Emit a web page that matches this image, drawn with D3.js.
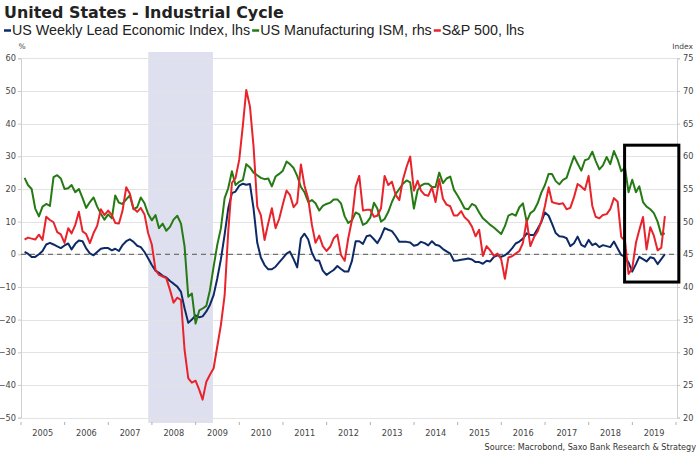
<!DOCTYPE html>
<html>
<head>
<meta charset="utf-8">
<script src="https://cdn.jsdelivr.net/npm/d3@7"></script>
<style>
  html, body { margin: 0; padding: 0; background: #fff; }
  svg { display: block; }
</style>
</head>
<body>
<svg id="chart" width="700" height="456"></svg>
<script>
// ---- Data (monthly, Jan 2005 .. Sep 2019) ----
const startYear = 2005;
const leiValues = [
  0.7,0.2,-0.8,-0.8,0.0,1.0,3.0,3.5,3.0,2.4,1.9,2.7,
  3.3,1.5,3.2,4.2,4.0,1.8,0.3,-0.3,0.7,1.7,1.9,1.9,
  1.2,1.7,1.0,2.8,4.0,4.6,3.8,2.6,2.2,0.7,-1.2,-3.3,
  -5.0,-5.7,-6.6,-7.1,-8.2,-9.0,-9.9,-11.5,-16.5,-21.0,-20.0,-18.7,
  -19.3,-19.0,-17.5,-15.5,-12.5,-7.5,-1.5,6.0,14.0,18.7,19.2,21.0,
  21.6,21.3,21.5,14.0,3.5,-1.0,-3.3,-4.6,-4.6,-3.8,-2.5,-1.2,
  0.2,0.8,-1.5,-4.0,4.9,6.3,4.5,0.5,-1.8,-2.0,-5.0,-6.3,
  -5.5,-4.8,-3.6,-4.5,-5.3,-5.3,-2.0,4.0,4.0,3.2,5.5,5.8,
  4.6,3.4,5.4,8.0,7.5,7.1,5.6,3.8,3.8,3.8,3.6,2.6,
  2.9,3.8,3.4,2.7,4.0,2.9,2.6,1.6,0.9,0.2,-2.0,-1.9,
  -1.7,-1.5,-1.3,-1.6,-2.4,-2.4,-2.9,-2.0,-2.2,-0.8,-0.3,-0.8,
  -0.3,0.5,1.8,3.3,3.9,4.8,6.4,5.9,5.9,7.8,9.8,12.8,
  11.8,9.4,6.5,5.5,5.4,4.9,2.5,3.4,5.4,2.9,2.3,4.4,
  2.8,3.3,2.2,2.8,2.5,2.2,3.9,1.8,-0.2,-0.8,-2.5,-5.3,
  -3.0,-0.8,-1.5,-2.2,-0.9,-1.2,-3.0,-1.5,0.0
];
const ismValues = [
  56.7,55.6,55.0,52.0,50.8,52.3,52.7,52.4,56.8,57.1,56.6,55.0,
  55.1,55.6,54.5,55.0,53.6,52.1,53.0,53.7,52.3,51.2,50.3,51.1,
  50.5,54.0,52.9,52.7,53.4,54.0,51.9,52.2,53.7,52.8,51.2,50.2,
  51.0,49.0,49.7,48.6,49.2,50.3,50.9,49.7,46.2,38.5,39.0,34.4,
  36.4,36.7,37.1,39.5,43.1,46.4,49.0,53.6,55.1,57.7,55.6,56.1,
  56.4,58.8,58.3,57.5,57.1,56.7,56.5,56.6,55.4,56.9,57.3,57.8,
  59.2,58.8,58.2,57.0,55.3,54.5,53.0,53.3,52.8,51.7,52.4,52.7,
  52.9,53.4,53.4,52.8,50.8,49.8,50.2,51.4,51.1,49.5,49.8,50.6,
  52.9,52.0,50.0,50.4,51.5,53.0,54.2,55.0,55.8,56.3,56.0,52.0,
  54.8,55.5,55.8,55.8,55.3,55.3,57.5,55.9,56.6,56.9,54.9,54.0,
  53.0,52.0,51.9,52.7,52.4,51.4,50.5,50.0,49.5,49.1,48.6,48.1,
  49.3,50.9,51.2,50.9,52.2,52.8,50.0,51.3,51.7,52.8,54.4,55.6,
  57.3,57.3,56.2,55.7,56.4,56.7,58.4,60.0,58.9,57.8,59.4,59.6,
  60.7,59.3,58.0,58.6,59.9,58.8,60.8,59.5,57.7,58.3,54.5,56.4,
  54.5,55.4,53.0,52.3,51.9,51.3,50.0,48.0,48.2
];
const spxValues = [
  4.5,5.1,4.8,4.5,6.0,4.4,11.5,10.5,9.8,6.8,6.1,3.5,
  8.0,6.4,9.0,13.0,7.0,6.2,3.4,6.5,8.7,13.8,12.0,13.4,
  12.0,9.6,9.4,13.3,20.5,18.6,14.0,13.0,14.2,12.2,6.5,3.0,
  -4.8,-6.3,-6.8,-7.3,-10.9,-14.8,-13.3,-14.0,-29.3,-38.0,-39.3,-38.7,
  -41.5,-44.5,-39.0,-36.9,-34.9,-28.3,-21.6,-12.6,6.8,21.9,23.3,28.9,
  39.6,50.3,45.2,33.0,14.6,12.0,4.4,9.5,14.1,8.0,10.8,15.3,
  19.5,18.2,14.4,15.8,27.5,21.0,17.0,9.0,3.5,5.7,2.5,1.0,
  2.3,4.9,6.0,-0.2,-2.0,4.9,10.5,20.7,24.0,13.4,13.6,13.6,
  11.5,11.8,14.1,24.0,21.2,22.2,18.2,16.6,22.8,26.8,29.9,19.5,
  22.5,19.5,18.2,17.9,20.5,16.0,23.0,17.0,15.2,14.7,11.9,11.9,
  13.2,11.3,10.3,8.5,5.5,7.5,-0.5,2.5,1.2,-0.5,0.2,-1.5,
  -7.5,-1.0,-0.6,0.2,1.0,3.5,10.4,2.5,5.2,7.0,10.0,14.8,
  20.5,16.0,15.6,15.4,15.6,13.8,14.2,17.5,21.5,20.7,19.7,24.0,
  14.8,11.5,11.0,12.0,12.3,13.8,17.2,16.1,5.3,4.2,-6.0,-4.3,
  3.5,7.4,11.4,1.5,8.3,5.7,1.2,2.0,11.7
];
const leftTicks = [60,50,40,30,20,10,0,-10,-20,-30,-40,-50];
const rightTicks = [75,70,65,60,55,50,45,40,35,30,25,20];
const yearLabels = ["2005","2006","2007","2008","2009","2010","2011","2012","2013","2014","2015","2016","2017","2018","2019"];
const recession = ["2007-12-01","2009-05-25"];
const highlightBox = { from: "2018-10-28", to: "2020-01-25", top: 33.4, bottom: -8.5 };
const seriesNames = ["US Weekly Lead Economic Index, lhs","US Manufacturing ISM, rhs","S&P 500, lhs"];
const seriesColors = ["#0d2a66","#257a14","#e8232b"];
const titleText = "United States - Industrial Cycle";
const sourceText = "Source: Macrobond, Saxo Bank Research & Strategy";

// month-end dates
const dates = leiValues.map((_, i) => new Date(startYear, i + 1, 0));

const svg = d3.select("#chart");
const X0 = 21, X1 = 676, YT = 58.3, YB = 417.6;

const x = d3.scaleTime().domain([new Date(2005,0,1), new Date(2020,0,1)]).range([X0, X1]);
const yL = d3.scaleLinear().domain([-50, 60]).range([YB, YT]);
const yR = d3.scaleLinear().domain([20, 75]).range([YB, YT]);

// recession shading
svg.append("rect")
  .attr("x", x(new Date(recession[0])))
  .attr("width", x(new Date(recession[1])) - x(new Date(recession[0])))
  .attr("y", 52).attr("height", 371)
  .attr("fill", "#dfe0ef");

// gridlines
svg.append("g").selectAll("line").data(leftTicks).join("line")
  .attr("x1", X0).attr("x2", X1 + 1)
  .attr("y1", d => Math.round(yL(d)) + 0.5).attr("y2", d => Math.round(yL(d)) + 0.5)
  .attr("stroke", "#e3e3e3").attr("stroke-width", 1);

// left axis
const axL = svg.append("g").attr("transform", `translate(${X0},0)`)
  .call(d3.axisLeft(yL).tickValues(leftTicks).tickSize(3).tickPadding(2));
axL.select(".domain").attr("stroke", "#d0d0d0");
axL.selectAll(".tick line").attr("stroke", "#c8c8c8");
axL.selectAll("text").attr("font-family", "DejaVu Sans").attr("font-size", 8.2).attr("fill", "#444");

// right axis
const axR = svg.append("g").attr("transform", `translate(${X1 + 1},0)`)
  .call(d3.axisRight(yR).tickValues(rightTicks).tickSize(3).tickPadding(3));
axR.select(".domain").attr("stroke", "#d0d0d0");
axR.selectAll(".tick line").attr("stroke", "#c8c8c8");
axR.selectAll("text").attr("font-family", "DejaVu Sans").attr("font-size", 8.2).attr("fill", "#444");

// x axis: ticks at year boundaries, labels centered in year
const yearStarts = d3.range(2005, 2021).map(y => new Date(y, 0, 1));
svg.append("g").selectAll("line").data(yearStarts).join("line")
  .attr("x1", d => x(d)).attr("x2", d => x(d))
  .attr("y1", 422).attr("y2", 425)
  .attr("stroke", "#b0b0b0");
svg.append("g").selectAll("text").data(yearLabels).join("text")
  .attr("x", d => x(new Date(+d, 6, 2)))
  .attr("y", 436)
  .attr("text-anchor", "middle")
  .attr("font-family", "DejaVu Sans").attr("font-size", 8.2).attr("fill", "#444")
  .text(d => d);

// zero dashed line
svg.append("line")
  .attr("x1", X0).attr("x2", X1)
  .attr("y1", yL(0)).attr("y2", yL(0))
  .attr("stroke", "#555").attr("stroke-width", 1).attr("stroke-dasharray", "5,4");

// series lines
const lineL = d3.line().x((d, i) => x(dates[i])).y(d => yL(d));
const lineR = d3.line().x((d, i) => x(dates[i])).y(d => yR(d));
svg.append("path").datum(leiValues).attr("d", lineL)
  .attr("fill", "none").attr("stroke", seriesColors[0]).attr("stroke-width", 2).attr("stroke-linejoin", "round");
svg.append("path").datum(ismValues).attr("d", lineR)
  .attr("fill", "none").attr("stroke", seriesColors[1]).attr("stroke-width", 2).attr("stroke-linejoin", "round");
svg.append("path").datum(spxValues).attr("d", lineL)
  .attr("fill", "none").attr("stroke", seriesColors[2]).attr("stroke-width", 2).attr("stroke-linejoin", "round");

// highlight box
svg.append("rect")
  .attr("x", x(new Date(highlightBox.from)))
  .attr("y", yL(highlightBox.top))
  .attr("width", x(new Date(highlightBox.to)) - x(new Date(highlightBox.from)))
  .attr("height", yL(highlightBox.bottom) - yL(highlightBox.top))
  .attr("fill", "none").attr("stroke", "#000").attr("stroke-width", 3);

// axis unit labels
svg.append("text").attr("x", 22).attr("y", 49).attr("text-anchor", "middle")
  .attr("font-family", "DejaVu Sans").attr("font-size", 7.5).attr("fill", "#444").text("%");
svg.append("text").attr("x", 693).attr("y", 49).attr("text-anchor", "end")
  .attr("font-family", "DejaVu Sans").attr("font-size", 7.5).attr("fill", "#444").text("Index");

// title
svg.append("text").attr("x", 4).attr("y", 18)
  .attr("font-family", "DejaVu Sans").attr("font-weight", "bold").attr("font-size", 15.9).attr("fill", "#222")
  .text(titleText);

// legend
let lx = 4;
seriesNames.forEach((name, i) => {
  svg.append("line").attr("x1", lx).attr("x2", lx + 7).attr("y1", 30.5).attr("y2", 30.5)
    .attr("stroke", seriesColors[i]).attr("stroke-width", 2.5);
  const t = svg.append("text").attr("x", lx + 8).attr("y", 35)
    .attr("font-family", "Liberation Sans").attr("font-size", 14.3).attr("fill", "#222").text(name);
  lx += 8 + t.node().getComputedTextLength() + 2;
});

// source
svg.append("text").attr("x", 696).attr("y", 450).attr("text-anchor", "end")
  .attr("font-family", "DejaVu Sans").attr("font-size", 8.1).attr("fill", "#333").text(sourceText);
</script>
</body>
</html>
